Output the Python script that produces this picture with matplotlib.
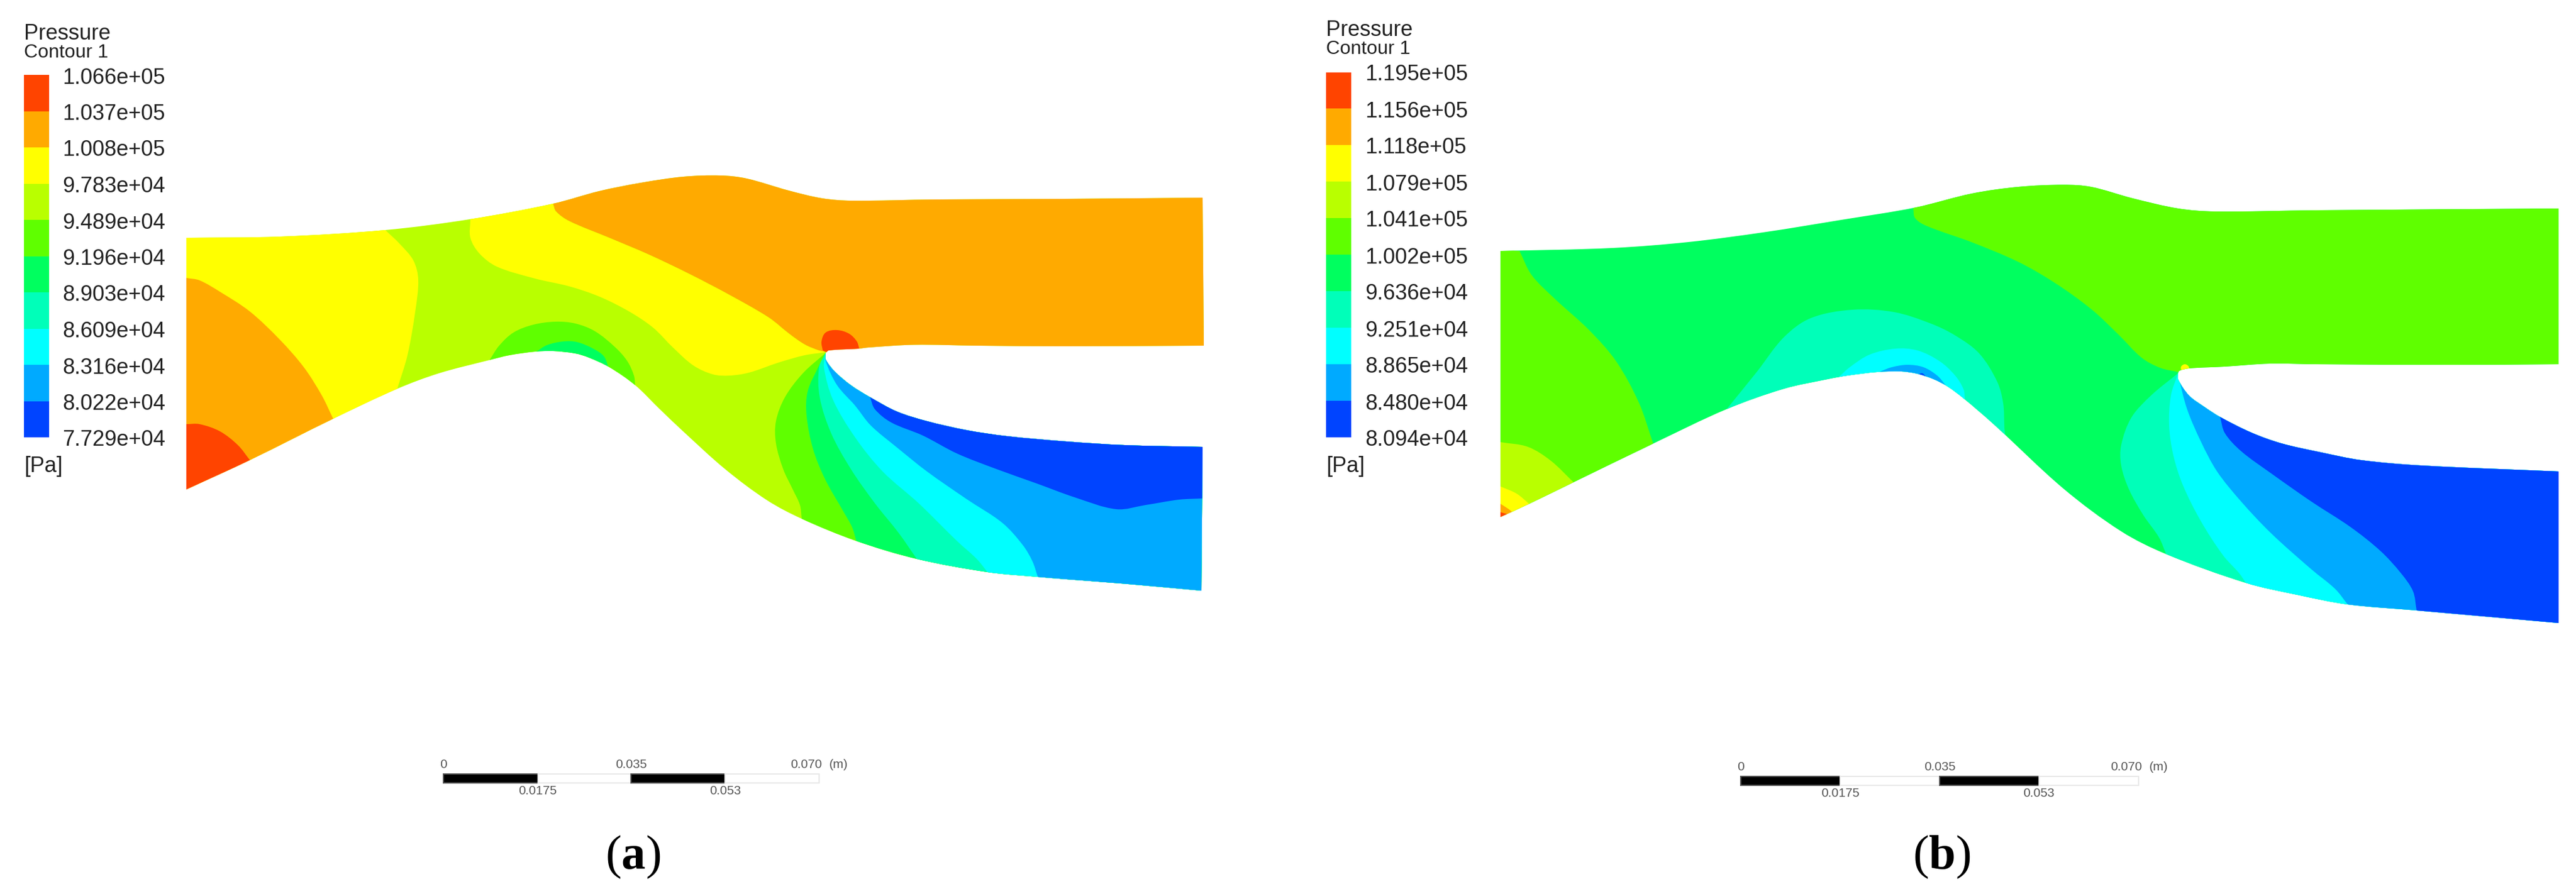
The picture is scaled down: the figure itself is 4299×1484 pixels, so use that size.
#!/usr/bin/python3

import numpy as np
import matplotlib
matplotlib.use('Agg')
import matplotlib.pyplot as plt
from matplotlib.path import Path
from matplotlib.patches import PathPatch, Rectangle

plt.rcParams['font.family'] = ['Liberation Sans', 'DejaVu Sans']
plt.rcParams['mathtext.fontset'] = 'custom'
plt.rcParams['mathtext.bf'] = 'Liberation Serif:bold'
plt.rcParams['mathtext.rm'] = 'Liberation Serif'

# contour band colours, highest pressure first
band_colors = ['#ff4400', '#ffaa00', '#ffff00', '#b9ff00', '#5fff00',
               '#00ff5f', '#00ffb9', '#00ffff', '#00aaff', '#0044ff']
RED, ORANGE, YELLOW, LIME, GREEN, SPRING, AQUA, CYAN, SKY, BLUE = band_colors

a_levels = ['1.066e+05', '1.037e+05', '1.008e+05', '9.783e+04', '9.489e+04', '9.196e+04',
            '8.903e+04', '8.609e+04', '8.316e+04', '8.022e+04', '7.729e+04']
b_levels = ['1.195e+05', '1.156e+05', '1.118e+05', '1.079e+05', '1.041e+05', '1.002e+05',
            '9.636e+04', '9.251e+04', '8.865e+04', '8.480e+04', '8.094e+04']

scale_top = ['0', '0.035', '0.070']
scale_bottom = ['0.0175', '0.053']

# panel (a), walls
a_wall_top = [(311, 397), (467, 395), (643, 384), (784, 366), (923, 340), (1000, 319), (1070, 305),
              (1140, 295), (1203, 293), (1246, 298), (1316, 318), (1372, 331), (1421, 335),
              (1561, 333), (1772, 332), (2007, 330)]
a_outlet_up = [(2007, 330), (2009, 577)]
a_wall_mid = [(2009, 577), (1772, 578), (1631, 577), (1526, 575.5), (1450, 580), (1433, 582),
              (1383, 585), (1378, 589)]
a_wall_low = [(1378, 589), (1378, 600), (1393, 620), (1420, 643), (1452, 663), (1497, 687), (1547, 703),
              (1613, 718), (1680, 728), (1780, 737), (1877, 743), (2007, 746)]
a_outlet_low = [(2007, 746), (2005, 986)]
a_wall_bot = [(2005, 986), (1877, 974.5), (1780, 967), (1732, 963), (1648, 955), (1530, 933), (1429, 903),
              (1338, 866), (1280, 835), (1210, 783), (1140, 720), (1100, 682), (1060, 643), (1017, 613),
              (983, 597), (960, 590), (923, 586), (893, 587), (850, 593), (817, 601), (733, 623),
              (663, 649), (556, 699), (417, 768), (311, 817)]
a_inlet = [(311, 817), (311, 397)]

# panel (a), band edges
a_orange_top = [(923, 340), (928, 353), (950, 369), (1017, 397), (1083, 425), (1150, 457), (1217, 492),
                (1283, 530), (1317, 557), (1343, 575), (1367, 585), (1378, 587)]
a_yellow_low = [(785, 366), (785, 397), (800, 423), (829, 445), (893, 465), (950, 478), (1000, 495),
                (1050, 520), (1090, 547), (1123, 580), (1157, 610), (1190, 625), (1217, 627),
                (1250, 622), (1300, 605), (1343, 593), (1378, 588)]
a_yellow_left = [(643, 384), (667, 407), (690, 435), (698, 467), (693, 520), (680, 593), (663, 649)]
a_orange_left = [(311, 464), (333, 468), (367, 487), (417, 520), (467, 567), (507, 613), (537, 660), (556, 699)]
a_red_left = [(311, 708), (333, 708), (367, 720), (397, 743), (417, 768)]
a_hub_green = [(817, 601), (833, 577), (857, 555), (890, 542), (927, 537), (960, 540), (993, 553),
               (1027, 580), (1047, 603), (1058, 627), (1060, 643)]
a_hub_spring = [(895, 587), (913, 576), (940, 570), (963, 571), (990, 582), (1008, 595), (1016, 615)]
a_fan_green = [(1378, 589), (1340, 623), (1310, 663), (1295, 703), (1295, 740), (1307, 783),
               (1323, 817), (1335, 843), (1338, 866)]
a_fan_spring = [(1378, 589), (1367, 610), (1348, 653), (1346, 693), (1357, 750), (1377, 800),
                (1407, 853), (1422, 880), (1429, 903)]
a_fan_aqua = [(1378, 589), (1367, 613), (1368, 663), (1387, 723), (1420, 783), (1460, 840),
              (1500, 890), (1530, 933)]
a_fan_cyan = [(1378, 589), (1375, 613), (1390, 667), (1427, 730), (1473, 787), (1533, 840),
              (1597, 903), (1630, 933), (1648, 955)]
a_fan_sky = [(1378, 589), (1378, 603), (1397, 643), (1427, 677), (1453, 710), (1497, 747), (1547, 787),
             (1613, 833), (1673, 873), (1707, 910), (1723, 937), (1732, 963)]
a_fan_blue = [(1452, 663), (1460, 683), (1487, 705), (1540, 727), (1597, 757), (1663, 783), (1730, 807),
              (1793, 830), (1863, 850), (1912, 843), (1968, 834), (2007, 832)]
a_tip_red = [(1373, 585), (1371, 570), (1378, 555), (1397, 551), (1417, 557), (1430, 570), (1434, 582)]

# panel (b), walls
b_wall_top = [(2504, 419), (2690, 414), (2818, 404), (2945, 387.5), (3073, 367), (3196, 346.5),
              (3291, 323), (3368, 312), (3444, 308.5), (3490, 312), (3559, 331), (3635, 348),
              (3696, 353), (3865, 351), (4270, 348)]
b_outlet_up = [(4270, 348), (4270, 608)]
b_wall_mid = [(4270, 608), (4094, 609), (3865, 608), (3788, 607), (3712, 612), (3653, 615),
              (3637, 619), (3635, 623)]
b_wall_low = [(3635, 623), (3635, 633), (3653, 660), (3680, 680), (3705, 696), (3757, 722), (3807, 740),
              (3873, 755), (3940, 768), (4040, 777), (4270, 787)]
b_outlet_low = [(4270, 787), (4270, 1040)]
b_wall_bot = [(4270, 1040), (4033, 1019), (3918, 1009), (3834, 993), (3748, 973), (3615, 925),
              (3540, 887), (3444, 816), (3327, 708), (3277, 665), (3250, 645), (3227, 633), (3200, 624),
              (3173, 620), (3133, 621), (3083, 627), (3050, 633), (2977, 649), (2881.5, 683),
              (2759, 740.5), (2626, 805), (2552, 841), (2504, 863)]
b_inlet = [(2504, 863), (2504, 419)]

# panel (b), band edges
b_green_left = [(2536, 419), (2556, 459), (2595, 499), (2652, 551), (2697, 603), (2735, 672), (2759, 740.5)]
b_lime_left = [(2504, 738), (2550, 746), (2588, 769), (2626, 805)]
b_yellow_left = [(2504, 812), (2531, 824), (2552, 841)]
b_orange_left = [(2504, 841), (2518, 850), (2524, 855)]
b_red_left = [(2504, 855), (2515, 858)]
b_green_top = [(3193, 347.5), (3196, 364), (3215, 377), (3291, 404.5), (3368, 437), (3429, 472),
               (3490, 516), (3536, 559), (3574, 597), (3605, 614), (3635, 621)]
b_tip_yellow = [(3640, 619), (3640, 612), (3646, 608), (3652, 611), (3654, 617)]
b_hub_aqua = [(2881.5, 683), (2932.5, 620), (2977, 563), (3022, 531), (3092, 517), (3161, 521),
              (3222, 540), (3263, 560), (3303, 590), (3333, 637), (3343, 673), (3345, 712)]
b_hub_cyan = [(3068, 630), (3087, 613), (3120, 592), (3163, 582), (3200, 585), (3237, 603),
              (3263, 627), (3277, 650), (3279, 665)]
b_hub_sky = [(3138, 620), (3157, 613), (3183, 609), (3210, 613), (3233, 627), (3247, 643)]
b_hub_blue = [(3203, 624), (3208, 623), (3214, 628)]
b_fan_aqua = [(3635, 623), (3590, 660), (3557, 697), (3540, 743), (3540, 777), (3553, 817),
              (3577, 860), (3603, 897), (3615, 925)]
b_fan_cyan = [(3635, 623), (3623, 660), (3620, 710), (3627, 760), (3643, 810), (3673, 870),
              (3710, 927), (3737, 957), (3748, 973)]
b_fan_sky = [(3635, 627), (3650, 683), (3673, 737), (3700, 787), (3740, 837), (3790, 890),
             (3857, 950), (3897, 983), (3918, 1009)]
b_fan_blue = [(3705, 696), (3713, 723), (3740, 753), (3790, 790), (3857, 837), (3923, 880),
              (3973, 920), (4007, 957), (4027, 987), (4033, 1019)]


def smooth_path(segments):
    # each segment becomes a smooth bezier run, corners stay between segments
    verts = [segments[0][0]]
    codes = [Path.MOVETO]
    for seg in segments:
        p = np.array(seg, dtype=float)
        n = len(p)
        for i in range(n - 1):
            before = p[max(i - 1, 0)]
            after = p[min(i + 2, n - 1)]
            d = np.linalg.norm(p[i + 1] - p[i]) / 3
            t0 = p[i + 1] - before
            t1 = after - p[i]
            c0 = p[i] + t0 / max(np.linalg.norm(t0), 1e-6) * d
            c1 = p[i + 1] - t1 / max(np.linalg.norm(t1), 1e-6) * d
            verts += [c0, c1, p[i + 1]]
            codes += [Path.CURVE4] * 3
    verts.append(verts[0])
    codes.append(Path.CLOSEPOLY)
    return Path(np.array(verts, dtype=float), codes)


def draw_domain(ax, walls, base_color, layers):
    domain = PathPatch(smooth_path(walls), facecolor=base_color, edgecolor='none', lw=0)
    ax.add_patch(domain)
    for color, segments in layers:
        patch = PathPatch(smooth_path(segments), facecolor=color, edgecolor='none', lw=0)
        ax.add_patch(patch)
        patch.set_clip_path(domain)


def draw_legend(ax, x, top, bottom, label_x, levels, title_y, label_top):
    edges = np.linspace(top, bottom, len(levels))
    for i, color in enumerate(band_colors):
        ax.add_patch(Rectangle((x, edges[i]), 42, edges[i + 1] - edges[i], facecolor=color, lw=0))
    label_ys = np.linspace(label_top, 735, len(levels))
    for y, level in zip(label_ys, levels):
        ax.text(label_x, y, level, fontsize=26, color='#222222', va='center', ha='left')
    ax.text(x, title_y, 'Pressure', fontsize=26, color='#222222', va='center', ha='left')
    ax.text(x, title_y + 32, 'Contour 1', fontsize=23, color='#222222', va='center', ha='left')
    ax.text(x, 778, '[Pa]', fontsize=26, color='#222222', va='center', ha='left')


def draw_scale(ax, ticks, y, panel_label, m_x):
    for i in range(4):
        fc = 'black' if i % 2 == 0 else 'white'
        ec = '#555555' if i % 2 == 0 else '#e8e8e8'
        ax.add_patch(Rectangle((ticks[i], y), ticks[i + 1] - ticks[i], 14.5, facecolor=fc, edgecolor=ec, lw=1.5))
    style = dict(fontsize=15, color='#555555', va='center', ha='center')
    ax.text(ticks[0], y - 16, scale_top[0], **style)
    ax.text(ticks[2], y - 16, scale_top[1], **style)
    ax.text(m_x - 54, y - 16, scale_top[2], **style)
    ax.text(m_x, y - 16, '(m)', **style)
    ax.text(ticks[1], y + 28, scale_bottom[0], **style)
    ax.text(ticks[3], y + 28, scale_bottom[1], **style)
    ax.text(ticks[2] + 3, 1431, r'($\mathbf{%s}$)' % panel_label, fontsize=58,
            family='Liberation Serif', color='black', va='center', ha='center')


fig = plt.figure(figsize=(42.99, 14.84), dpi=100)
ax = fig.add_axes([0, 0, 1, 1])
ax.set_xlim(0, 4299)
ax.set_ylim(1484, 0)
ax.axis('off')

a_walls = [a_wall_top, a_outlet_up, a_wall_mid, a_wall_low, a_outlet_low, a_wall_bot, a_inlet]
a_layers = [
    (ORANGE, [a_orange_top, [(1378, 587), (1500, 640), (2100, 660), (2100, 250), (923, 250), (923, 340)]]),
    (YELLOW, [a_yellow_left, [(663, 649), (663, 900), (250, 900), (250, 300), (643, 300), (643, 384)]]),
    (ORANGE, [a_orange_left, [(556, 699), (560, 900), (250, 900), (250, 464), (311, 464)]]),
    (RED, [a_red_left, [(417, 768), (417, 900), (250, 900), (250, 708), (311, 708)]]),
    (YELLOW, [a_yellow_low, a_orange_top[::-1], [(923, 340), (923, 300), (785, 300), (785, 366)]]),
    (GREEN, [a_hub_green, [(1060, 643), (1060, 720), (817, 720), (817, 601)]]),
    (SPRING, [a_hub_spring, [(1016, 615), (1016, 720), (895, 720), (895, 587)]]),
    (GREEN, [a_fan_green, [(1338, 866), (1338, 1050), (2100, 1050), (2100, 700), (1378, 589)]]),
    (SPRING, [a_fan_spring, [(1429, 903), (1429, 1050), (2100, 1050), (2100, 700), (1378, 589)]]),
    (AQUA, [a_fan_aqua, [(1530, 933), (1530, 1050), (2100, 1050), (2100, 700), (1378, 589)]]),
    (CYAN, [a_fan_cyan, [(1648, 955), (1648, 1050), (2100, 1050), (2100, 700), (1378, 589)]]),
    (SKY, [a_fan_sky, [(1732, 963), (1732, 1050), (2100, 1050), (2100, 700), (1378, 589)]]),
    (BLUE, [a_fan_blue, [(2007, 832), (2100, 832), (2100, 700), (1452, 640), (1452, 663)]]),
    (RED, [a_tip_red, [(1434, 582), (1434, 590), (1390, 592), (1373, 585)]]),
]
draw_domain(ax, a_walls, LIME, a_layers)

b_walls = [b_wall_top, b_outlet_up, b_wall_mid, b_wall_low, b_outlet_low, b_wall_bot, b_inlet]
b_layers = [
    (GREEN, [b_green_left, [(2759, 740.5), (2759, 950), (2450, 950), (2450, 419), (2536, 419)]]),
    (LIME, [b_lime_left, [(2626, 805), (2626, 950), (2450, 950), (2450, 738), (2504, 738)]]),
    (YELLOW, [b_yellow_left, [(2552, 841), (2552, 950), (2450, 950), (2450, 812), (2504, 812)]]),
    (ORANGE, [b_orange_left, [(2524, 855), (2524, 950), (2450, 950), (2450, 841), (2504, 841)]]),
    (RED, [b_red_left, [(2515, 858), (2515, 950), (2450, 950), (2450, 855), (2504, 855)]]),
    (GREEN, [b_green_top, [(3635, 621), (3700, 640), (4350, 660), (4350, 250), (3193, 250), (3193, 347.5)]]),
    (YELLOW, [b_tip_yellow, [(3654, 617), (3654, 625), (3640, 625), (3640, 619)]]),
    (AQUA, [b_hub_aqua, [(3345, 712), (3345, 800), (2881.5, 800), (2881.5, 683)]]),
    (CYAN, [b_hub_cyan, [(3279, 665), (3279, 800), (3068, 800), (3068, 630)]]),
    (SKY, [b_hub_sky, [(3247, 643), (3247, 760), (3138, 760), (3138, 620)]]),
    (BLUE, [b_hub_blue, [(3214, 628), (3214, 760), (3203, 760), (3203, 624)]]),
    (AQUA, [b_fan_aqua, [(3615, 925), (3615, 1100), (4350, 1100), (4350, 740), (3635, 623)]]),
    (CYAN, [b_fan_cyan, [(3748, 973), (3748, 1100), (4350, 1100), (4350, 740), (3635, 623)]]),
    (SKY, [b_fan_sky, [(3918, 1009), (3918, 1100), (4350, 1100), (4350, 740), (3635, 627)]]),
    (BLUE, [b_fan_blue, [(4033, 1019), (4033, 1100), (4350, 1100), (4350, 740), (3705, 680), (3705, 696)]]),
]
draw_domain(ax, b_walls, SPRING, b_layers)

draw_legend(ax, 40, 125, 730, 104, a_levels, 56, 130)
draw_legend(ax, 2213, 120.5, 730, 2278, b_levels, 50.5, 125)

draw_scale(ax, [740, 897.5, 1053, 1210, 1367], 1292, 'a', 1399)
draw_scale(ax, [2905, 3071, 3237, 3402.5, 3569], 1296, 'b', 3602)

fig.savefig('out.png', dpi=100)
